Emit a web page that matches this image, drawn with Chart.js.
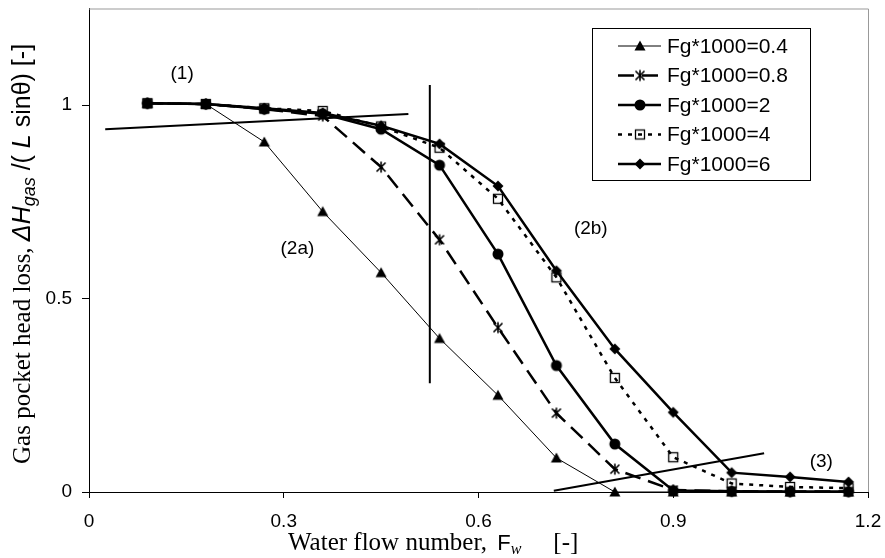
<!DOCTYPE html>
<html>
<head>
<meta charset="utf-8">
<script src="https://cdn.jsdelivr.net/npm/chart.js@4"></script>
<style>
  html, body { margin: 0; padding: 0; background: #fff; }
  #wrap { width: 885px; height: 558px; }
</style>
</head>
<body>
<div id="wrap"><canvas id="chart" width="885" height="558"></canvas></div>
<script>
// Water flow number F_w (same for every series)
const flowNumber = [0.09, 0.18, 0.27, 0.36, 0.45, 0.54, 0.63, 0.72, 0.81, 0.90, 0.99, 1.08, 1.17];

// Gas pocket head loss per gas flow number
const headLoss04 = [1.005, 1.003, 0.905, 0.725, 0.567, 0.397, 0.250, 0.088, 0.000, 0.000, 0.000, 0.000, 0.000];
const headLoss08 = [1.005, 1.003, 0.990, 0.972, 0.840, 0.652, 0.425, 0.204, 0.059, 0.005, 0.002, 0.001, 0.001];
const headLoss2  = [1.005, 1.003, 0.990, 0.978, 0.938, 0.845, 0.615, 0.327, 0.124, 0.004, 0.002, 0.001, 0.001];
const headLoss4  = [1.005, 1.003, 0.992, 0.985, 0.945, 0.890, 0.758, 0.555, 0.295, 0.090, 0.022, 0.013, 0.010];
const headLoss6  = [1.005, 1.003, 0.992, 0.980, 0.947, 0.900, 0.791, 0.572, 0.370, 0.206, 0.050, 0.039, 0.026];

const seriesNames = ['Fg*1000=0.4', 'Fg*1000=0.8', 'Fg*1000=2', 'Fg*1000=4', 'Fg*1000=6'];

// Regime boundary lines (drawn by hand on the original)
const line1X = [0.025, 0.492];
const line1Y = [0.938, 0.977];
const line2X = [0.525, 0.525];
const line2Y = [1.052, 0.281];
const line3X = [0.716, 1.040];
const line3Y = [0.003, 0.100];

// Regime labels
const regionNames = ['(1)', '(2a)', '(2b)', '(3)'];
const regionX = [0.1435, 0.321, 0.773, 1.128];
const regionY = [1.08, 0.629, 0.68, 0.077];

// Tick labels
const xTicks = [0, 0.3, 0.6, 0.9, 1.2];
const yTicks = [0, 0.5, 1];

const SANS = '"Liberation Sans", Arial, sans-serif';
const SERIF = '"Liberation Serif", "Times New Roman", serif';

function toPoints(xs, ys) {
    return xs.map((x, i) => ({ x: x, y: ys[i] }));
}

// Excel style markers
function makeMarker(kind) {
    const c = document.createElement('canvas');
    c.width = 14;
    c.height = 14;
    const g = c.getContext('2d');
    const m = 7;
    g.fillStyle = '#000';
    g.strokeStyle = '#000';
    g.beginPath();
    switch (kind) {
        case 'triangle':
            g.moveTo(m, m - 5.5);
            g.lineTo(m + 5.5, m + 4.5);
            g.lineTo(m - 5.5, m + 4.5);
            g.closePath();
            g.fill();
            break;
        case 'star':
            g.lineWidth = 1.6;
            g.moveTo(m - 4.5, m - 4.5); g.lineTo(m + 4.5, m + 4.5);
            g.moveTo(m + 4.5, m - 4.5); g.lineTo(m - 4.5, m + 4.5);
            g.moveTo(m, m - 5.5); g.lineTo(m, m + 5.5);
            g.stroke();
            break;
        case 'circle':
            g.arc(m, m, 5.5, 0, Math.PI * 2);
            g.fill();
            break;
        case 'square':
            g.lineWidth = 1.3;
            g.strokeRect(m - 4.5, m - 4.5, 9, 9);
            break;
        case 'diamond':
            g.moveTo(m, m - 5.5);
            g.lineTo(m + 5.5, m);
            g.lineTo(m, m + 5.5);
            g.lineTo(m - 5.5, m);
            g.closePath();
            g.fill();
            break;
    }
    return c;
}

function seriesDataset(label, ys, marker, width, dash) {
    return {
        label: label,
        data: toPoints(flowNumber, ys),
        showLine: true,
        borderColor: '#000',
        backgroundColor: '#000',
        borderWidth: width,
        borderDash: dash,
        pointStyle: makeMarker(marker),
        pointRadius: 6,
        tension: 0,
        clip: false
    };
}

function boundaryDataset(xs, ys) {
    return {
        label: '',
        data: toPoints(xs, ys),
        showLine: true,
        borderColor: '#000',
        borderWidth: 2,
        pointRadius: 0,
        isBoundary: true
    };
}

const datasets = [
    seriesDataset(seriesNames[0], headLoss04, 'triangle', 1, []),
    seriesDataset(seriesNames[1], headLoss08, 'star', 2.5, [16, 8]),
    seriesDataset(seriesNames[2], headLoss2, 'circle', 2.5, []),
    seriesDataset(seriesNames[3], headLoss4, 'square', 2.5, [4, 6]),
    seriesDataset(seriesNames[4], headLoss6, 'diamond', 2.5, []),
    boundaryDataset(line1X, line1Y),
    boundaryDataset(line2X, line2Y),
    boundaryDataset(line3X, line3Y)
];

// draw a run of mixed-font pieces starting at x
function drawPieces(ctx, pieces, x, y) {
    pieces.forEach(p => {
        x += p.gap || 0;
        ctx.font = p.font;
        ctx.fillText(p.text, x, y + (p.dy || 0));
        x += ctx.measureText(p.text).width;
    });
    return x;
}

// keep the plot area fixed: no extra room for overhanging labels
function noPadding(s) {
    s.paddingLeft = 0;
    s.paddingRight = 0;
    s.paddingTop = 0;
    s.paddingBottom = 0;
}

const decorPlugin = {
    id: 'decor',
    afterDraw(chart) {
        const ctx = chart.ctx;
        const area = chart.chartArea;
        const xs = chart.scales.x;
        const ys = chart.scales.y;

        ctx.save();

        // grey frame on top and right
        ctx.strokeStyle = '#999';
        ctx.lineWidth = 1;
        ctx.beginPath();
        ctx.moveTo(area.left, area.top + 0.5);
        ctx.lineTo(area.right + 0.5, area.top + 0.5);
        ctx.lineTo(area.right + 0.5, area.bottom);
        ctx.stroke();

        // regime labels
        ctx.fillStyle = '#000';
        ctx.font = '19px ' + SANS;
        ctx.textAlign = 'center';
        ctx.textBaseline = 'middle';
        regionNames.forEach((name, i) => {
            ctx.fillText(name, xs.getPixelForValue(regionX[i]), ys.getPixelForValue(regionY[i]));
        });

        // x axis title
        ctx.textAlign = 'left';
        ctx.textBaseline = 'alphabetic';
        const xTitle = [
            { text: 'Water flow number, ', font: '25px ' + SERIF },
            { text: 'F', font: '22px ' + SANS, gap: 4 },
            { text: 'w', font: 'italic 16px ' + SERIF, dy: 4 },
            { text: '[-]', font: '25px ' + SERIF, gap: 32 }
        ];
        drawPieces(ctx, xTitle, 288, 550);

        // y axis title, rotated
        const yTitle = [
            { text: 'Gas pocket head loss, ', font: '25px ' + SERIF },
            { text: '\u0394H', font: 'italic 25px ' + SANS },
            { text: 'gas', font: 'italic 18px ' + SANS, dy: 5 },
            { text: ' /( ', font: '25px ' + SANS },
            { text: 'L', font: 'italic 25px ' + SANS },
            { text: ' sin\u03B8) [-]', font: '25px ' + SANS }
        ];
        ctx.save();
        ctx.translate(30, 464);
        ctx.rotate(-Math.PI / 2);
        drawPieces(ctx, yTitle, 0, 0);
        ctx.restore();

        // legend box
        const bx = 592, by = 28, bw = 218, bh = 152;
        ctx.fillStyle = '#fff';
        ctx.fillRect(bx, by, bw, bh);
        ctx.strokeStyle = '#000';
        ctx.lineWidth = 1;
        ctx.strokeRect(bx + 0.5, by + 0.5, bw, bh);

        ctx.textBaseline = 'middle';
        ctx.font = '21px ' + SANS;
        chart.data.datasets.forEach((ds, i) => {
            if (ds.isBoundary) return;
            const cy = 46 + i * 29.5;
            ctx.strokeStyle = '#000';
            ctx.lineWidth = ds.borderWidth;
            ctx.setLineDash(ds.borderDash || []);
            ctx.beginPath();
            ctx.moveTo(618, cy);
            ctx.lineTo(661, cy);
            ctx.stroke();
            ctx.setLineDash([]);
            const mk = ds.pointStyle;
            ctx.drawImage(mk, 640 - mk.width / 2, cy - mk.height / 2);
            ctx.fillStyle = '#000';
            ctx.fillText(ds.label, 667, cy + 1);
        });

        ctx.restore();
    }
};

new Chart(document.getElementById('chart'), {
    type: 'scatter',
    data: { datasets: datasets },
    options: {
        responsive: false,
        animation: false,
        devicePixelRatio: 1,
        layout: { padding: { top: 8, right: 17, left: 0, bottom: 0 } },
        plugins: {
            legend: { display: false },
            tooltip: { enabled: false }
        },
        scales: {
            x: {
                type: 'linear',
                min: 0,
                max: 1.2,
                afterBuildTicks: s => { s.ticks = xTicks.map(v => ({ value: v })); },
                afterFit: s => { s.height = 66; noPadding(s); },
                ticks: {
                    color: '#000',
                    font: { family: SANS, size: 19 },
                    padding: 12,
                    maxRotation: 0,
                    callback: v => String(v)
                },
                grid: { drawOnChartArea: false, color: '#000', tickLength: 6 },
                border: { color: '#000', width: 1 }
            },
            y: {
                min: 0,
                max: 1.25,
                afterBuildTicks: s => { s.ticks = yTicks.map(v => ({ value: v })); },
                afterFit: s => { s.width = 89; noPadding(s); },
                ticks: {
                    color: '#000',
                    font: { family: SANS, size: 19 },
                    padding: 10,
                    callback: v => String(v)
                },
                grid: { drawOnChartArea: false, color: '#000', tickLength: 7 },
                border: { color: '#000', width: 1 }
            }
        }
    },
    plugins: [decorPlugin]
});
</script>
</body>
</html>
